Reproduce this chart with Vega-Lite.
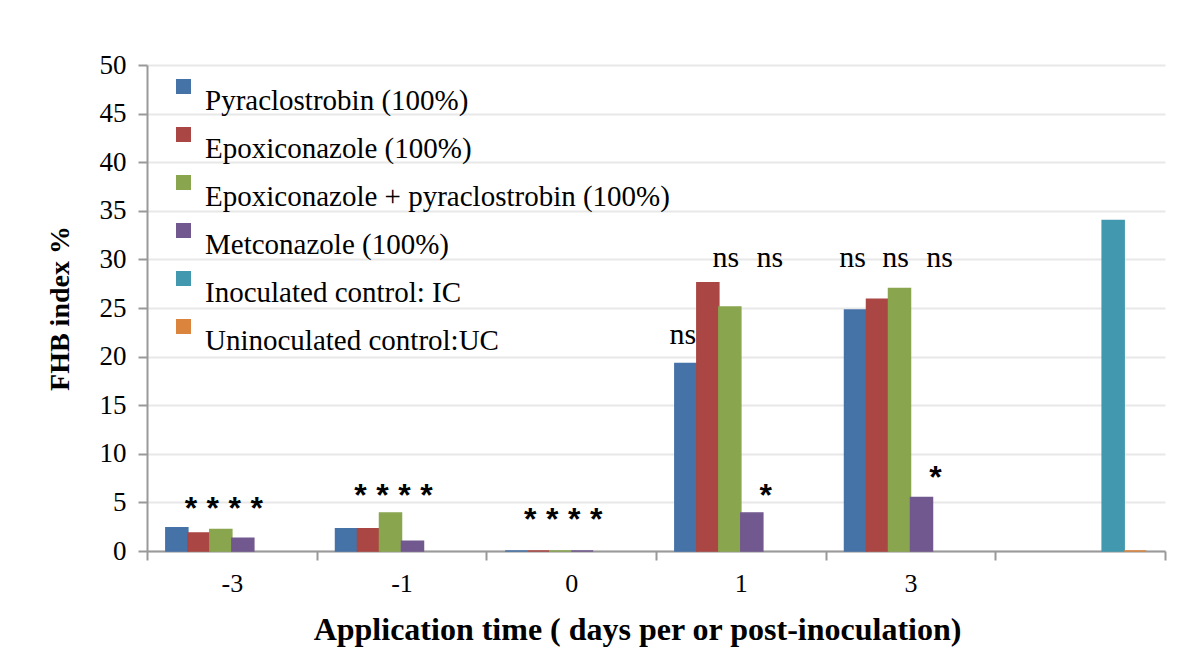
{
  "$schema": "https://vega.github.io/schema/vega-lite/v6.json",
  "width": 1018,
  "height": 486,
  "autosize": {"type": "none"},
  "padding": {"left": 147, "top": 65, "right": 29, "bottom": 107},
  "background": "white",
  "config": {"font": "'Liberation Serif', 'Times New Roman', Tinos, serif", "view": {"stroke": null}},
  "datasets": {
    "bars": [
      {"time": "-3", "series": "Pyraclostrobin (100%)", "fhb": 2.4},
      {"time": "-3", "series": "Epoxiconazole (100%)", "fhb": 1.85},
      {"time": "-3", "series": "Epoxiconazole + pyraclostrobin (100%)", "fhb": 2.2},
      {"time": "-3", "series": "Metconazole  (100%)", "fhb": 1.3},
      {"time": "-1", "series": "Pyraclostrobin (100%)", "fhb": 2.3},
      {"time": "-1", "series": "Epoxiconazole (100%)", "fhb": 2.3},
      {"time": "-1", "series": "Epoxiconazole + pyraclostrobin (100%)", "fhb": 3.9},
      {"time": "-1", "series": "Metconazole  (100%)", "fhb": 1.0},
      {"time": "0", "series": "Pyraclostrobin (100%)", "fhb": 0},
      {"time": "0", "series": "Epoxiconazole (100%)", "fhb": 0},
      {"time": "0", "series": "Epoxiconazole + pyraclostrobin (100%)", "fhb": 0},
      {"time": "0", "series": "Metconazole  (100%)", "fhb": 0},
      {"time": "1", "series": "Pyraclostrobin (100%)", "fhb": 19.3},
      {"time": "1", "series": "Epoxiconazole (100%)", "fhb": 27.6},
      {"time": "1", "series": "Epoxiconazole + pyraclostrobin (100%)", "fhb": 25.1},
      {"time": "1", "series": "Metconazole  (100%)", "fhb": 3.9},
      {"time": "3", "series": "Pyraclostrobin (100%)", "fhb": 24.8},
      {"time": "3", "series": "Epoxiconazole (100%)", "fhb": 25.9},
      {"time": "3", "series": "Epoxiconazole + pyraclostrobin (100%)", "fhb": 27.0},
      {"time": "3", "series": "Metconazole  (100%)", "fhb": 5.5},
      {"time": "C", "series": "Inoculated control: IC", "fhb": 34.0},
      {"time": "C", "series": "Uninoculated control:UC", "fhb": 0}
    ],
    "notes": [
      {"time": "-3", "series": "Pyraclostrobin (100%)", "label": "*", "at": 4.9},
      {"time": "-3", "series": "Epoxiconazole (100%)", "label": "*", "at": 4.9},
      {"time": "-3", "series": "Epoxiconazole + pyraclostrobin (100%)", "label": "*", "at": 4.9},
      {"time": "-3", "series": "Metconazole  (100%)", "label": "*", "at": 4.9},
      {"time": "-1", "series": "Pyraclostrobin (100%)", "label": "*", "at": 6.3},
      {"time": "-1", "series": "Epoxiconazole (100%)", "label": "*", "at": 6.3},
      {"time": "-1", "series": "Epoxiconazole + pyraclostrobin (100%)", "label": "*", "at": 6.3},
      {"time": "-1", "series": "Metconazole  (100%)", "label": "*", "at": 6.3},
      {"time": "0", "series": "Pyraclostrobin (100%)", "label": "*", "at": 3.8},
      {"time": "0", "series": "Epoxiconazole (100%)", "label": "*", "at": 3.8},
      {"time": "0", "series": "Epoxiconazole + pyraclostrobin (100%)", "label": "*", "at": 3.8},
      {"time": "0", "series": "Metconazole  (100%)", "label": "*", "at": 3.8},
      {"time": "1", "series": "Pyraclostrobin (100%)", "label": "ns", "at": 22.2},
      {"time": "1", "series": "Epoxiconazole (100%)", "label": "ns", "at": 30.1},
      {"time": "1", "series": "Epoxiconazole + pyraclostrobin (100%)", "label": "ns", "at": 30.1},
      {"time": "1", "series": "Metconazole  (100%)", "label": "*", "at": 6.3},
      {"time": "3", "series": "Pyraclostrobin (100%)", "label": "ns", "at": 30.1},
      {"time": "3", "series": "Epoxiconazole (100%)", "label": "ns", "at": 30.1},
      {"time": "3", "series": "Epoxiconazole + pyraclostrobin (100%)", "label": "ns", "at": 30.1},
      {"time": "3", "series": "Metconazole  (100%)", "label": "*", "at": 8.1}
    ]
  },
  "encoding": {
    "x": {
      "field": "time", "type": "nominal",
      "sort": ["-3", "-1", "0", "1", "3", "C"],
      "scale": {"paddingInner": 0, "paddingOuter": 0},
      "axis": {
        "title": "Application time ( days per or post-inoculation)",
        "labelExpr": "datum.value == 'C' ? '' : datum.value",
        "labelAngle": 0,
        "labelFontSize": 26,
        "labelColor": "#000000",
        "labelPadding": 10,
        "tickBand": "extent",
        "tickSize": 9,
        "tickColor": "#999999",
        "domainColor": "#999999",
        "domainWidth": 2,
        "tickWidth": 2,
        "titleFontSize": 32,
        "titleFontWeight": "bold",
        "titleColor": "#000000",
        "titlePadding": 18,
        "titleX": 490
      }
    },
    "xOffset": {
      "field": "series", "type": "nominal",
      "sort": ["Pyraclostrobin (100%)", "Epoxiconazole (100%)", "Epoxiconazole + pyraclostrobin (100%)", "Metconazole  (100%)", "Inoculated control: IC", "Uninoculated control:UC"],
      "scale": {"paddingInner": 0, "paddingOuter": 0.857}
    }
  },
  "layer": [
    {
      "data": {"name": "bars"},
      "mark": {"type": "bar", "strokeWidth": 1.5},
      "encoding": {
        "y": {
          "field": "fhb", "type": "quantitative",
          "scale": {"domain": [0, 50]},
          "axis": {
            "title": "FHB index %",
            "values": [0, 5, 10, 15, 20, 25, 30, 35, 40, 45, 50],
            "labelFontSize": 27,
            "labelColor": "#000000",
            "labelPadding": 12,
            "tickSize": 9,
            "tickWidth": 2,
            "tickColor": "#999999",
            "domainColor": "#999999",
            "domainWidth": 2,
            "gridColor": "#e8e8e8",
            "gridWidth": 2,
            "titleFontSize": 28,
            "titleFontWeight": "bold",
            "titleColor": "#000000",
            "titlePadding": 25
          }
        },
        "color": {
          "field": "series", "type": "nominal",
          "scale": {
            "domain": ["Pyraclostrobin (100%)", "Epoxiconazole (100%)", "Epoxiconazole + pyraclostrobin (100%)", "Metconazole  (100%)", "Inoculated control: IC", "Uninoculated control:UC"],
            "range": ["#4572a7", "#aa4643", "#89a54e", "#71588f", "#4198af", "#db843d"]
          },
          "legend": {
            "title": null,
            "orient": "none",
            "legendX": 22,
            "legendY": 7,
            "symbolType": "square",
            "symbolSize": 225,
            "symbolStrokeWidth": 0,
            "labelFontSize": 29,
            "labelColor": "#000000",
            "labelBaseline": "top",
            "labelOffset": 7,
            "rowPadding": 4,
            "labelLimit": 700
          }
        },
        "stroke": {
          "field": "series", "type": "nominal",
          "scale": {
            "domain": ["Pyraclostrobin (100%)", "Epoxiconazole (100%)", "Epoxiconazole + pyraclostrobin (100%)", "Metconazole  (100%)", "Inoculated control: IC", "Uninoculated control:UC"],
            "range": ["#4572a7", "#aa4643", "#89a54e", "#71588f", "#4198af", "#db843d"]
          },
          "legend": null
        }
      }
    },
    {
      "data": {"name": "notes"},
      "transform": [{"filter": "datum.label == 'ns' && datum.series == 'Pyraclostrobin (100%)'"}],
      "mark": {"type": "text", "fontSize": 30, "baseline": "middle", "dx": -3, "color": "#000000"},
      "encoding": {"y": {"field": "at", "type": "quantitative"}, "text": {"field": "label"}}
    },
    {
      "data": {"name": "notes"},
      "transform": [{"filter": "datum.label == 'ns' && datum.series == 'Epoxiconazole (100%)'"}],
      "mark": {"type": "text", "fontSize": 30, "baseline": "middle", "dx": 18, "color": "#000000"},
      "encoding": {"y": {"field": "at", "type": "quantitative"}, "text": {"field": "label"}}
    },
    {
      "data": {"name": "notes"},
      "transform": [{"filter": "datum.label == 'ns' && datum.series == 'Epoxiconazole + pyraclostrobin (100%)'"}],
      "mark": {"type": "text", "fontSize": 30, "baseline": "middle", "dx": 40, "color": "#000000"},
      "encoding": {"y": {"field": "at", "type": "quantitative"}, "text": {"field": "label"}}
    },
    {
      "data": {"name": "notes"},
      "transform": [{"filter": "datum.label == '*'"}],
      "mark": {"type": "text", "font": "Liberation Sans", "fontSize": 32, "fontWeight": "bold", "baseline": "middle", "dx": 14, "dy": 6, "color": "#000000"},
      "encoding": {"y": {"field": "at", "type": "quantitative"}, "text": {"field": "label"}}
    }
  ]
}
